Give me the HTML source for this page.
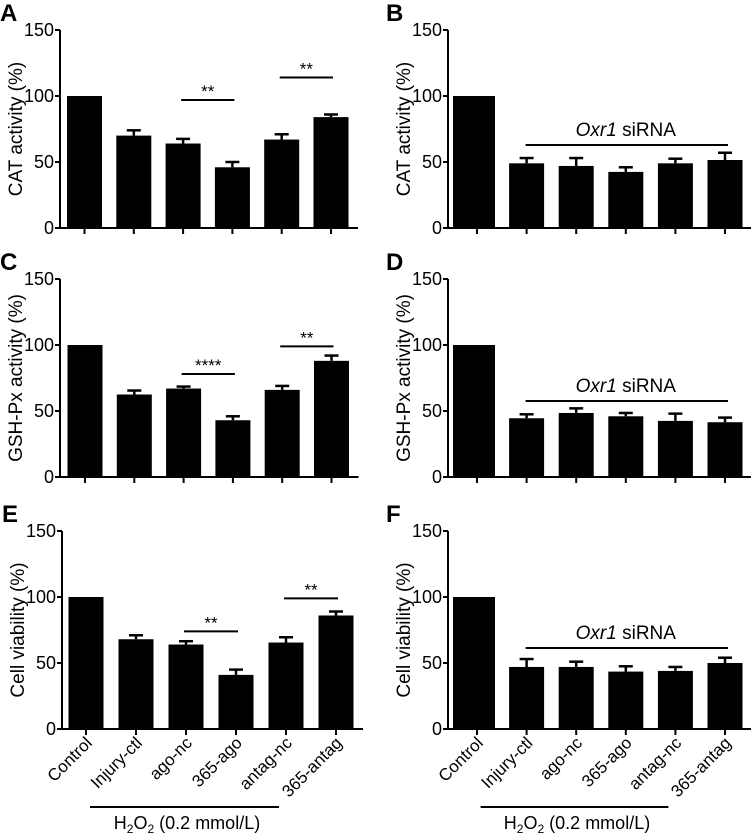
<!DOCTYPE html>
<html><head><meta charset="utf-8"><style>
body{margin:0;background:#fff}
svg{display:block;font-family:"Liberation Sans",Arial,sans-serif}
</style></head><body>
<svg id="fig" width="751" height="836" viewBox="0 0 751 836" xmlns="http://www.w3.org/2000/svg"></svg>
<script>
const categories=["Control","Injury-ctl","ago-nc","365-ago","antag-nc","365-antag"];
const yTicks=[0,50,100,150];
const valsA=[100,70,64,46,67,84]; const errA=[0,74,67.5,50,71,86];
const valsB=[100,49,47,42.5,49,51.5]; const errB=[0,53,53,46,52.5,57];
const valsC=[100,62.5,67,43,66,88]; const errC=[0,65.5,68.5,46,69,92];
const valsD=[100,44.5,48.5,46,42.5,41.5]; const errD=[0,47.5,52,48.5,48,45];
const valsE=[100,68,64,41,65.5,86]; const errE=[0,71,66.5,45,69.5,89];
const valsF=[100,47,47,43.5,44,50]; const errF=[0,53,51,47.5,47,54];
const sigA=[[2,3,"**",97],[4,5,"**",114]];
const sigC=[[2,3,"****",78],[4,5,"**",99]];
const sigE=[[2,3,"**",74],[4,5,"**",99]];

const NS="http://www.w3.org/2000/svg";
const svg=document.getElementById('fig');
function mk(tag,attrs,parent,txt){const e=document.createElementNS(NS,tag);for(const k in attrs)e.setAttribute(k,attrs[k]);if(txt!==undefined)e.textContent=txt;(parent||svg).appendChild(e);return e;}

const panels=[
 {id:"a",letter:"A",ax:60,y0:228,x0:84.5,dx:49.3,title:"CAT activity (%)",vals:valsA,err:errA,sig:sigA,right:false,labels:false},
 {id:"b",letter:"B",ax:448,y0:228,x0:477,dx:49.6,title:"CAT activity (%)",vals:valsB,err:errB,sig:null,right:true,labels:false,oxr:145},
 {id:"c",letter:"C",ax:60,y0:477,x0:85,dx:49.3,title:"GSH-Px activity (%)",vals:valsC,err:errC,sig:sigC,right:false,labels:false},
 {id:"d",letter:"D",ax:448,y0:477,x0:477,dx:49.6,title:"GSH-Px activity (%)",vals:valsD,err:errD,sig:null,right:true,labels:false,oxr:401},
 {id:"e",letter:"E",ax:62,y0:729,x0:86,dx:50,title:"Cell viability (%)",vals:valsE,err:errE,sig:sigE,right:false,labels:true},
 {id:"f",letter:"F",ax:448,y0:729,x0:477,dx:49.6,title:"Cell viability (%)",vals:valsF,err:errF,sig:null,right:true,labels:true,oxr:648}
];
const PX=198/150;
panels.forEach(p=>{
  const g=mk('g',{});
  
  
  const Y=v=>p.y0-v*PX;
  const X=i=>p.x0+i*p.dx;
  const L=mk('text',{x:p.ax-60+(p.right?-2:0),y:Y(150)-9,'font-size':24,'font-weight':'bold'},g,p.letter);
  
  
  mk('line',{x1:p.ax,y1:Y(150),x2:p.ax,y2:p.y0,stroke:'#000','stroke-width':2},g);
  yTicks.forEach(t=>{
    mk('line',{x1:p.ax-5,y1:Y(t),x2:p.ax,y2:Y(t),stroke:'#000','stroke-width':2},g);
    const tl=mk('text',{x:p.ax-6,y:Y(t)+6,'font-size':18,'text-anchor':'end'},g,t);
    
    
  });
  const yc=(Y(150)+p.y0)/2;
  const tt=mk('text',{x:0,y:0,'font-size':19,'text-anchor':'middle',transform:`translate(${p.ax-38},${yc}) rotate(-90)`},g,p.title);
  
  
  mk('line',{x1:p.ax,y1:p.y0,x2:X(5)+27,y2:p.y0,stroke:'#000','stroke-width':2},g);
  categories.forEach((c,i)=>{
    mk('line',{x1:X(i),y1:p.y0,x2:X(i),y2:p.y0+6,stroke:'#000','stroke-width':2},g);
    const v=p.vals[i];
    let x1=X(i)-17.5,w=35;
    if(p.right&&i===0){x1=p.ax+5;w=X(0)+18-x1;}
    const b=mk('rect',{x:x1,y:Y(v),width:w,height:p.y0-Y(v),fill:'#000'},g);
    
    
    if(p.err[i]>v){
      mk('line',{x1:X(i),y1:Y(v),x2:X(i),y2:Y(p.err[i]),stroke:'#000','stroke-width':2.5},g);
      mk('line',{x1:X(i)-7,y1:Y(p.err[i]),x2:X(i)+7,y2:Y(p.err[i]),stroke:'#000','stroke-width':2.5},g);
    }
    if(p.labels){
      const xl=mk('text',{x:0,y:0,'font-size':17,'text-anchor':'end',transform:`translate(${X(i)+7},${p.y0+15}) rotate(-45)`},g,c);
      
      
    }
  });
  if(p.sig){
    p.sig.forEach(s=>{
      const y=Y(s[3]);
      mk('line',{x1:X(s[0])-2,y1:y,x2:X(s[1])+2,y2:y,stroke:'#000','stroke-width':2},g);
      const st=mk('text',{x:(X(s[0])+X(s[1]))/2,y:y-3,'font-size':17,'text-anchor':'middle'},g,s[2]);
      
      
    });
  }
  if(p.oxr){
    mk('line',{x1:X(1)-1,y1:p.oxr,x2:X(5)+3,y2:p.oxr,stroke:'#000','stroke-width':2},g);
    const ot=mk('text',{x:(X(1)+X(5))/2,y:p.oxr-9,'font-size':19,'text-anchor':'middle'},g);
    
    
    mk('tspan',{'font-style':'italic'},ot,'Oxr1');
    mk('tspan',{},ot,' siRNA');
  }
  if(p.labels){
    mk('line',{x1:X(1)-46,y1:807,x2:X(4)-7,y2:807,stroke:'#000','stroke-width':2},g);
    const ht=mk('text',{x:(X(1)+X(4))/2-24,y:829,'font-size':18,'text-anchor':'middle'},g);
    
    
    mk('tspan',{},ht,'H');
    mk('tspan',{'font-size':12,dy:4},ht,'2');
    mk('tspan',{dy:-4},ht,'O');
    mk('tspan',{'font-size':12,dy:4},ht,'2');
    mk('tspan',{dy:-4},ht,' (0.2 mmol/L)');
  }
});
</script>
</body></html>
